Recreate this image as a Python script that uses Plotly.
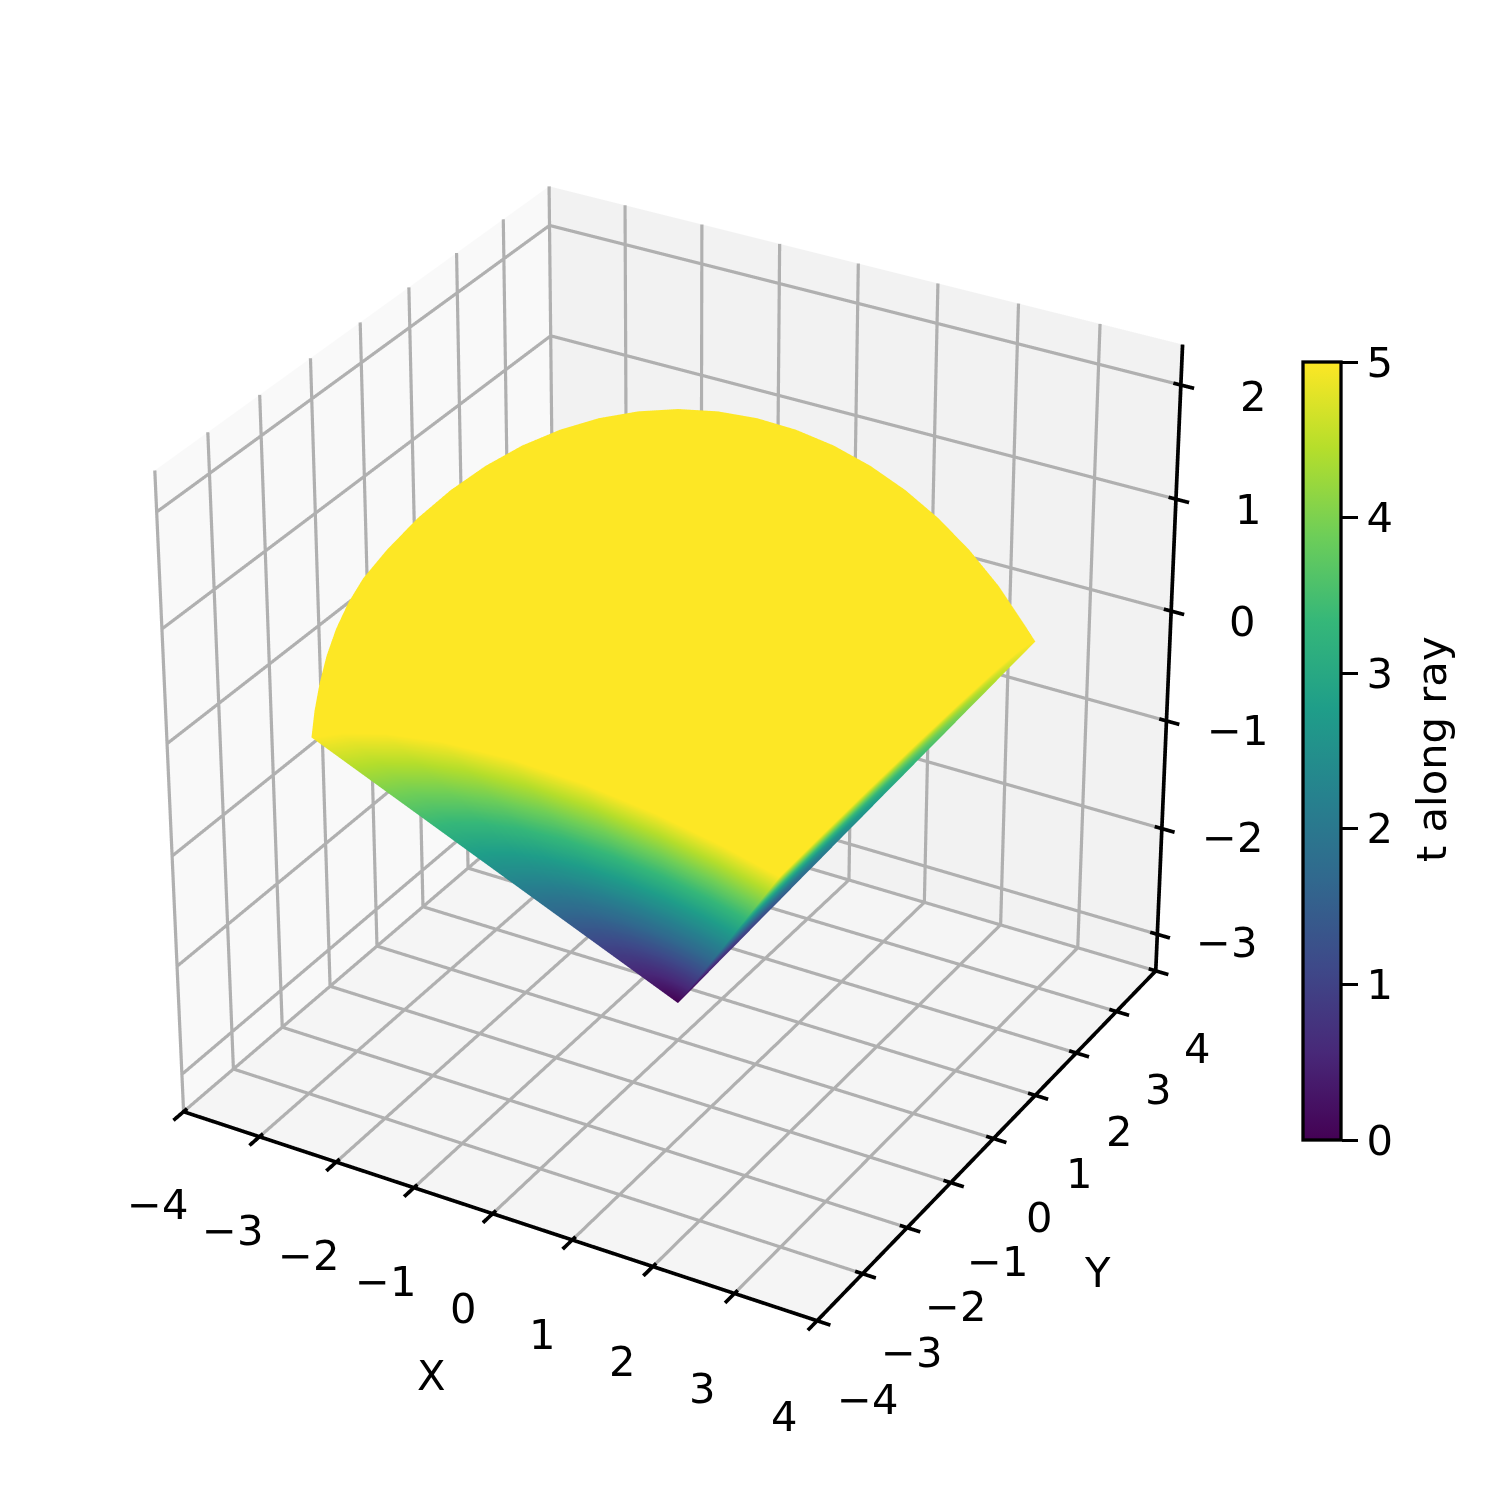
import plotly.graph_objects as go

# Outline of the yellow spherical cap. First vertex is the pole.
cap_x = [0,-2.887,-2.342,-1.667,-0.871,0,0.871,1.667,2.342,2.887,3.123,3.333,3.482,3.536,3.482,3.333,3.123,2.887,
         2.700,2.389,2.054,1.704,1.341,0.967,0.586,0.201,-0.186,-0.570,-0.952,-1.326,-1.690,-2.041,-2.376,-2.693,-2.989,-3.264,-3.512,
         -3.482,-3.417,-3.333,-3.234,-3.123,-3.007]
cap_y = [0,-2.887,-3.123,-3.333,-3.482,-3.536,-3.482,-3.333,-3.123,-2.887,-2.342,-1.667,-0.871,0,0.871,1.667,2.342,2.887,
         2.975,2.934,2.870,2.785,2.678,2.551,2.405,2.240,2.058,1.861,1.649,1.425,1.190,0.946,0.695,0.437,0.178,-0.083,-0.344,
         -0.871,-1.281,-1.667,-2.021,-2.342,-2.631]
cap_z = [2,-0.113,0.123,0.333,0.482,0.536,0.482,0.333,0.123,-0.113,0.123,0.333,0.482,0.536,0.482,0.333,0.123,-0.113,
         -0.025,0.274,0.547,0.793,1.010,1.196,1.351,1.472,1.560,1.612,1.630,1.612,1.560,1.472,1.351,1.196,1.010,0.793,0.547,
         0.482,0.417,0.333,0.234,0.123,0.007]
cap_t = [5]*43

# Ray fan: first vertex is the apex (t = 0), others lie on the outer rim (t = 5)
fan_x = [0,-2.887,-2.342,-1.667,-0.871,0,0.871,1.667,2.342,2.887,3.123,3.333,3.482,3.536,3.482,3.333,3.123,2.887]
fan_y = [0,-2.887,-3.123,-3.333,-3.482,-3.536,-3.482,-3.333,-3.123,-2.887,-2.342,-1.667,-0.871,0,0.871,1.667,2.342,2.887]
fan_z = [-3,-0.113,0.123,0.333,0.482,0.536,0.482,0.333,0.123,-0.113,0.123,0.333,0.482,0.536,0.482,0.333,0.123,-0.113]
fan_t = [0,5,5,5,5,5,5,5,5,5,5,5,5,5,5,5,5,5]

ticks_xy = [-4,-3,-2,-1,0,1,2,3,4]
labels_xy = ["\u22124","\u22123","\u22122","\u22121","0","1","2","3","4"]
ticks_z = [-3,-2,-1,0,1,2]
labels_z = ["\u22123","\u22122","\u22121","0","1","2"]
ticks_c = [0,1,2,3,4,5]

XMIN, XMAX = -4, 4
YMIN, YMAX = -4, 4
ZMIN, ZMAX = -3.35, 2.35
FONT = "DejaVu Sans"
FS = 41.67
LW = 3.3
ROOM = 2.2                # the scene range is wider than the drawn box so ticks and labels stay inside it
ZOOM = 1.01
PX_PER_UNIT = 376.0       # pixels per half box width on screen
DIST = 18.0               # viewing distance of the reference, in half box widths
VIEW = (0.433, -0.75, 0.5)
EYE = (1.0, -1.732, 1.155)
ZC, ZH = (ZMIN + ZMAX) / 2, (ZMAX - ZMIN) / 2


def to_box(x, y, z):
    return (x / 4, y / 4, (z - ZC) / ZH)


def from_box(q):
    return (q[0] * 4, q[1] * 4, q[2] * ZH + ZC)


def view(x, y, z):
    """Weak perspective of the reference, applied ahead of the orthographic scene camera."""
    q = to_box(x, y, z)
    a = sum(c * v for c, v in zip(q, VIEW))
    s = 1 / (1 - a / DIST)
    return from_box([a * v + s * (c - a * v) for c, v in zip(q, VIEW)])


def pts(xs, ys, zs):
    out = [view(a, b, c) for a, b, c in zip(xs, ys, zs)]
    return [p[0] for p in out], [p[1] for p in out], [p[2] for p in out]


def bands(items, lift, color, width):
    """Constant-width lines, as ribbons facing the camera; lift only moves them nearer in depth."""
    X, Y, Z, I, J, K = [], [], [], [], [], []
    half = width / PX_PER_UNIT / 2
    for p0, p1 in items:
        a, b = to_box(*view(*p0)), to_box(*view(*p1))
        d = [b[m] - a[m] for m in range(3)]
        n = (d[1]*VIEW[2] - d[2]*VIEW[1], d[2]*VIEW[0] - d[0]*VIEW[2], d[0]*VIEW[1] - d[1]*VIEW[0])
        ln = sum(c*c for c in n) ** 0.5
        n = [c / ln * half for c in n]
        base = len(X)
        for q, sg in ((a, 1), (a, -1), (b, -1), (b, 1)):
            v = from_box([q[m] + sg * n[m] + lift * VIEW[m] for m in range(3)])
            X.append(v[0]); Y.append(v[1]); Z.append(v[2])
        I += [base, base]; J += [base + 1, base + 2]; K += [base + 2, base + 3]
    return go.Mesh3d(x=X, y=Y, z=Z, i=I, j=J, k=K, color=color, lighting=FLAT, hoverinfo="skip", showscale=False)


FLAT = dict(ambient=1, diffuse=0, specular=0, roughness=1, fresnel=0)
fig = go.Figure()

# panes
panes = [
    ((XMIN, YMIN, ZMIN), (XMIN, YMAX, ZMIN), (XMIN, YMAX, ZMAX), (XMIN, YMIN, ZMAX), "#f9f9f9"),
    ((XMIN, YMAX, ZMIN), (XMAX, YMAX, ZMIN), (XMAX, YMAX, ZMAX), (XMIN, YMAX, ZMAX), "#f2f2f2"),
    ((XMIN, YMIN, ZMIN), (XMAX, YMIN, ZMIN), (XMAX, YMAX, ZMIN), (XMIN, YMAX, ZMIN), "#f5f5f5"),
]
for p in panes:
    a, b, c = pts(*zip(*p[:4]))
    fig.add_trace(go.Mesh3d(x=a, y=b, z=c, i=[0, 0], j=[1, 2], k=[2, 3], color=p[4],
                            lighting=FLAT, hoverinfo="skip", showscale=False))

# grid
grid = []
for t in ticks_xy:
    grid.append(((t, YMIN, ZMIN), (t, YMAX, ZMIN)))
    grid.append(((XMIN, t, ZMIN), (XMAX, t, ZMIN)))
    grid.append(((t, YMAX, ZMIN), (t, YMAX, ZMAX)))
    grid.append(((XMIN, t, ZMIN), (XMIN, t, ZMAX)))
for t in ticks_z:
    grid.append(((XMIN, YMAX, t), (XMAX, YMAX, t)))
    grid.append(((XMIN, YMIN, t), (XMIN, YMAX, t)))
fig.add_trace(bands(grid, 0.03, "#b0b0b0", LW))

# axis lines and tick marks
axes = [((XMIN, YMIN, ZMIN), (XMAX, YMIN, ZMIN)),
        ((XMAX, YMIN, ZMIN), (XMAX, YMAX, ZMIN)),
        ((XMAX, YMAX, ZMIN), (XMAX, YMAX, ZMAX))]
for t in ticks_xy:
    axes.append(((t, YMIN + 0.07, ZMIN), (t, YMIN - 0.2, ZMIN)))
    axes.append(((XMAX - 0.09, t, ZMIN), (XMAX + 0.16, t, ZMIN)))
for t in ticks_z:
    axes.append(((XMAX - 0.09, YMAX, t), (XMAX + 0.16, YMAX, t)))
fig.add_trace(bands(axes, 0.06, "black", 3.8))

# cap and fan
a, b, c = pts(cap_x, cap_y, cap_z)
n = len(cap_x)
fig.add_trace(go.Mesh3d(x=a, y=b, z=c, intensity=cap_t, cmin=0, cmax=5, colorscale="Viridis", showscale=False,
                        i=[0]*(n-1), j=list(range(1, n)), k=list(range(2, n)) + [1],
                        lighting=FLAT, hoverinfo="skip"))
a, b, c = pts(fan_x, fan_y, fan_z)
n = len(fan_x)
fig.add_trace(go.Mesh3d(x=a, y=b, z=c, intensity=fan_t, cmin=0, cmax=5,
    i=[0]*(n-2), j=list(range(1, n-1)), k=list(range(2, n)),
    colorscale="Viridis", showscale=True, lighting=FLAT, hoverinfo="skip",
    colorbar=dict(len=778, lenmode="pixels", thickness=38, thicknessmode="pixels",
        x=1295/1500, xanchor="left", y=1-1132/1500, yanchor="bottom", xpad=0, ypad=0,
        outlinecolor="black", outlinewidth=LW, tickmode="array", tickvals=ticks_c,
        ticks="outside", ticklen=16, tickwidth=LW, tickcolor="black",
        tickfont=dict(family=FONT, size=FS, color="black"))))

# text
def note(x, y, z, text):
    v = view(x, y, z)
    return dict(x=v[0], y=v[1], z=v[2], text=text, showarrow=False, xanchor="center", yanchor="middle",
                font=dict(family=FONT, size=FS, color="black"))

notes = []
for t, s in zip(ticks_xy, labels_xy):
    notes.append(note(t * 0.97 + 0.66, -5.67, ZMIN, s))
    notes.append(note(5.14, t * 0.966 - 1.117, ZMIN, s))
for t, s in zip(ticks_z, labels_z):
    notes.append(note(4.60, 4.60, t - 0.18, s))
notes.append(note(1.01, -6.88, ZMIN, "X"))
notes.append(note(6.165, -1.74, ZMIN, "Y"))


def axis(rng):
    return dict(range=rng, autorange=False, showbackground=False, showgrid=False, showline=False,
                zeroline=False, showticklabels=False, ticks="", showspikes=False, title=dict(text=""))


fig.update_layout(width=1500, height=1500, margin=dict(l=0, r=0, t=0, b=0), paper_bgcolor="white",
    font=dict(family=FONT, size=FS, color="black"),
    annotations=[dict(text="t along ray", textangle=-90, x=1423/1500, y=1-741/1500, xref="paper", yref="paper",
                      showarrow=False, xanchor="center", yanchor="middle",
                      font=dict(family=FONT, size=FS, color="black"))],
    scene=dict(domain=dict(x=[0, 0.8933], y=[0.035, 1]),
        aspectmode="manual", aspectratio=dict(x=ROOM*ZOOM, y=ROOM*ZOOM, z=ROOM*ZOOM),
        camera=dict(eye=dict(x=EYE[0]*ROOM, y=EYE[1]*ROOM, z=EYE[2]*ROOM),
                    center=dict(x=0, y=0, z=0), up=dict(x=0, y=0, z=1),
                    projection=dict(type="orthographic")),
        xaxis=axis([XMIN*ROOM, XMAX*ROOM]),
        yaxis=axis([YMIN*ROOM, YMAX*ROOM]),
        zaxis=axis([ZC-ZH*ROOM, ZC+ZH*ROOM]),
        annotations=notes,
    ))
fig.write_html("out.html")
